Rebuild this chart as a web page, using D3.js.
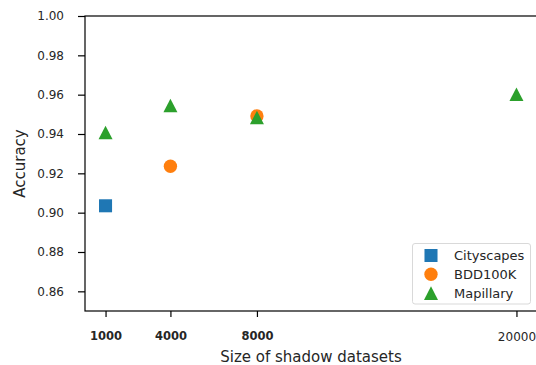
<!DOCTYPE html>
<html>
<head>
<meta charset="utf-8">
<script src="https://cdn.jsdelivr.net/npm/d3@7"></script>
<style>
  body { margin: 0; background: #fff; }
  text { font-family: "DejaVu Sans", sans-serif; fill: #262626; }
</style>
</head>
<body>
<script>
// data
var cityX = [1000];
var cityY = [0.9035];
var bddX = [4000, 8000];
var bddY = [0.9236, 0.9492];
var mapX = [1000, 4000, 8000, 20000];
var mapY = [0.9408, 0.9545, 0.9484, 0.9602];
var xTicks = [1000, 4000, 8000, 20000];
var boldTicks = [1000, 4000, 8000];
var yTicks = [0.86, 0.88, 0.90, 0.92, 0.94, 0.96, 0.98, 1.00];
var seriesNames = ["Cityscapes", "BDD100K", "Mapillary"];
var colors = ["#1f77b4", "#ff7f0e", "#2ca02c"];

var width = 536, height = 365;
var plotLeft = 85, plotRight = 537, plotTop = 16, plotBottom = 311;

var svg = d3.select("body").append("svg")
    .attr("width", width)
    .attr("height", height);

var x = d3.scaleLinear().domain([50, 20950]).range([plotLeft, plotRight]);
var y = d3.scaleLinear().domain([0.85, 1.00]).range([plotBottom, plotTop]);

// spines
svg.append("rect")
    .attr("x", plotLeft).attr("y", plotTop)
    .attr("width", plotRight - plotLeft).attr("height", plotBottom - plotTop)
    .attr("fill", "none").attr("stroke", "#000").attr("stroke-width", 1.2);

// y axis
var yAxis = svg.append("g")
    .attr("transform", "translate(" + plotLeft + ",0)")
    .call(d3.axisLeft(y).tickValues(yTicks).tickFormat(d3.format(".2f")).tickSize(7).tickPadding(14));
yAxis.select(".domain").remove();
yAxis.selectAll("line").attr("stroke", "#000").attr("stroke-width", 1.2);
yAxis.selectAll("text").attr("font-size", "12px").attr("font-family", "DejaVu Sans").attr("fill", "#262626");

// x axis
var xAxis = svg.append("g")
    .attr("transform", "translate(0," + plotBottom + ")")
    .call(d3.axisBottom(x).tickValues(xTicks).tickFormat(d3.format("d")).tickSize(6).tickPadding(15));
xAxis.select(".domain").remove();
xAxis.selectAll("line").attr("stroke", "#000").attr("stroke-width", 1.2);
xAxis.selectAll("text").attr("font-family", "DejaVu Sans").attr("fill", "#262626")
    .attr("font-size", function (d) { return boldTicks.indexOf(d) >= 0 ? "11.5px" : "12px"; })
    .attr("font-weight", function (d) { return boldTicks.indexOf(d) >= 0 ? "bold" : "normal"; });

// axis titles
svg.append("text")
    .attr("x", (plotLeft + plotRight) / 2).attr("y", 362)
    .attr("text-anchor", "middle").attr("font-size", "15px")
    .text("Size of shadow datasets");
svg.append("text")
    .attr("transform", "translate(25," + ((plotTop + plotBottom) / 2) + ") rotate(-90)")
    .attr("text-anchor", "middle").attr("font-size", "15px")
    .text("Accuracy");

var sq = d3.symbol().type(d3.symbolSquare).size(170);
var ci = d3.symbol().type(d3.symbolCircle).size(140);
var tri = function () {
    // matplotlib style triangle, centred on bbox
    return "M0,-6.8L7,6.8L-7,6.8Z";
};

// markers
svg.selectAll(".city").data(cityX).enter().append("path")
    .attr("d", sq)
    .attr("transform", function (d, i) { return "translate(" + x(d) + "," + y(cityY[i]) + ")"; })
    .attr("fill", colors[0]);

svg.selectAll(".bdd").data(bddX).enter().append("path")
    .attr("d", ci)
    .attr("transform", function (d, i) { return "translate(" + x(d) + "," + y(bddY[i]) + ")"; })
    .attr("fill", colors[1]);

svg.selectAll(".map").data(mapX).enter().append("path")
    .attr("d", tri)
    .attr("transform", function (d, i) { return "translate(" + x(d) + "," + y(mapY[i]) + ")"; })
    .attr("fill", colors[2]);

// legend
var lg = svg.append("g");
lg.append("rect")
    .attr("x", 412.5).attr("y", 243.5).attr("width", 118).attr("height", 60.5)
    .attr("rx", 2.5).attr("fill", "#fff").attr("fill-opacity", 0.8)
    .attr("stroke", "#d9d9d9").attr("stroke-width", 1);

var shapes = [sq, ci, tri];
seriesNames.forEach(function (name, i) {
    var cy = 255.5 + i * 18.8;
    lg.append("path")
        .attr("d", shapes[i])
        .attr("transform", "translate(431," + cy + ")")
        .attr("fill", colors[i]);
    lg.append("text")
        .attr("x", 454).attr("y", cy + 4.6)
        .attr("font-size", "13px")
        .text(name);
});
</script>
</body>
</html>
